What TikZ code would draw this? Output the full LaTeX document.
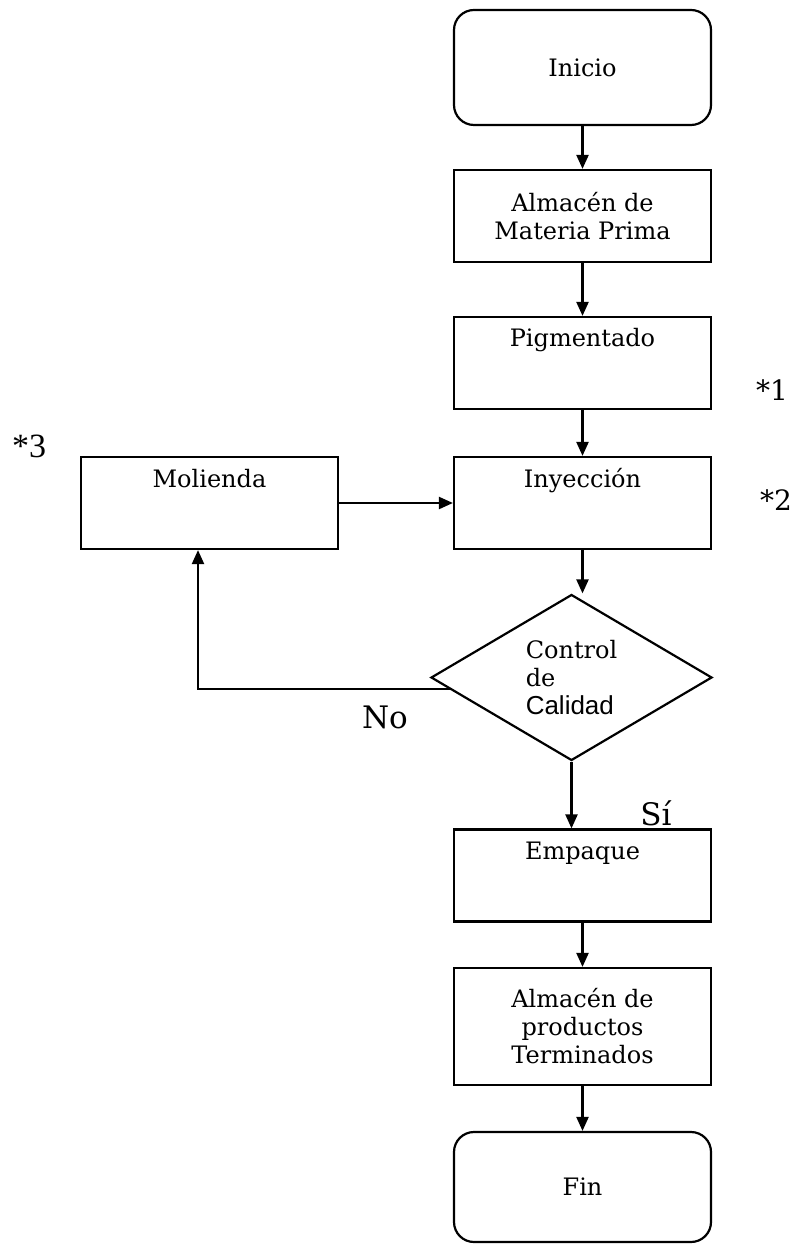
\documentclass[tikz,border=0pt]{standalone}
\usepackage{fontspec}
\setmainfont{DejaVu Serif}
\newfontfamily\arialfont{Liberation Sans}
\newfontfamily\timesfont{Liberation Serif}
\usetikzlibrary{shapes.geometric,arrows.meta,calc}

\begin{document}
\begin{tikzpicture}[
  x=0.5pt, y=-0.5pt,
  every node/.style={font=\fontsize{12}{14}\selectfont},
  >={Triangle[length=7pt,width=6pt]}, line width=1.1pt
]
\tikzset{
  caja/.style={draw, rectangle, minimum width=128.5pt, minimum height=46pt, align=center, inner sep=3pt},
  cajaarriba/.style={caja, text height=12pt, text depth=28pt},
  terminal/.style={caja, rounded corners=10pt},
  decision/.style={draw, diamond, minimum width=140.5pt, minimum height=80.5pt, inner sep=0pt, align=left},
  nota/.style={inner sep=0pt, font=\fontsize{15.5}{18}\selectfont}
}
\useasboundingbox (0,0) rectangle (804,1245);

\node[terminal, minimum height=57.5pt] (ini) at (582.5,67.5) {Inicio};
\node[caja] (amp) at (582.5,216) {Almacén de\\Materia Prima};
\node[cajaarriba] (pig) at (582.5,363) {Pigmentado};
\node[cajaarriba] (iny) at (582.5,503) {Inyección};
\node[cajaarriba] (mol) at (209.5,503) {Molienda};
\node[decision] (cc) at (571.5,677.5) {Control\\de\\{\arialfont\fontsize{13}{14}\selectfont Calidad}};
\node[cajaarriba] (emp) at (582.5,875.5) {Empaque};
\node[caja, minimum height=58.5pt] (apt) at (582.5,1026.5) {Almacén de\\productos\\Terminados};
\node[terminal, minimum height=55pt] (fin) at (582.5,1187) {Fin};

\draw[->] (ini) -- (amp);
\draw[->] (amp) -- (pig);
\draw[->] (pig) -- (iny);
\draw[->] (mol) -- (iny);
\draw[->] (iny.south) -- (iny.south |- cc.north);
\draw[->] (cc.south) -- (cc.south |- emp.north);
\draw[->] (emp) -- (apt);
\draw[->] (apt) -- (fin);
% rechazo: vuelve a molienda
\draw[->] ($(cc.west)!0.14!(cc.south)$) -| ([xshift=-5.75pt]mol.south);

\node[nota] (no) at (385,717) {No};
\node[nota] (si) at (656,813) {Sí};
\node[nota, font=\fontsize{14}{16}\selectfont] (n1) at (772,390) {*1};
\node[nota, font=\fontsize{14}{16}\selectfont] (n2) at (776,500) {*2};
\node[nota, font=\timesfont\fontsize{17}{19}\selectfont] (n3) at (29,446) {*3};
\end{tikzpicture}
\end{document}
